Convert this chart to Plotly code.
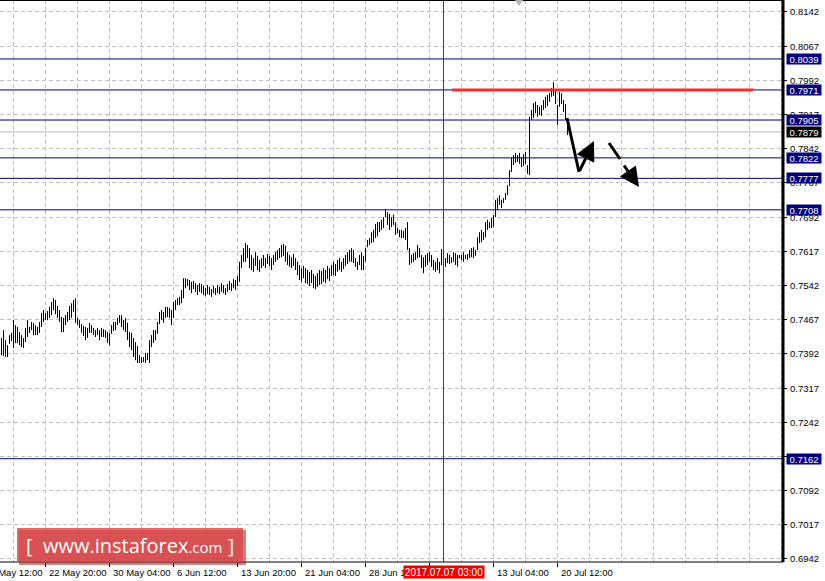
import plotly.graph_objects as go

# ---------------- data (H4 bars) ----------------
highs = [
    0.7427, 0.7444, 0.7422, 0.7411, 0.7433, 0.7438, 0.7466, 0.7455, 0.7451, 0.7440,
    0.7433, 0.7427, 0.7449, 0.7466, 0.7451, 0.7462, 0.7460, 0.7455, 0.7451, 0.7462,
    0.7482, 0.7488, 0.7482, 0.7486, 0.7495, 0.7506, 0.7514, 0.7510, 0.7497, 0.7488,
    0.7473, 0.7471, 0.7477, 0.7484, 0.7497, 0.7503, 0.7510, 0.7514, 0.7471, 0.7466,
    0.7457, 0.7453, 0.7451, 0.7449, 0.7460, 0.7455, 0.7449, 0.7444, 0.7449, 0.7444,
    0.7449, 0.7446, 0.7444, 0.7440, 0.7438, 0.7455, 0.7462, 0.7462, 0.7471, 0.7477,
    0.7477, 0.7466, 0.7471, 0.7460, 0.7440, 0.7438, 0.7427, 0.7418, 0.7409, 0.7389,
    0.7385, 0.7385, 0.7394, 0.7394, 0.7422, 0.7433, 0.7444, 0.7444, 0.7462, 0.7484,
    0.7488, 0.7484, 0.7495, 0.7495, 0.7493, 0.7488, 0.7506, 0.7510, 0.7514, 0.7517,
    0.7532, 0.7558, 0.7558, 0.7556, 0.7554, 0.7550, 0.7552, 0.7547, 0.7543, 0.7547,
    0.7545, 0.7541, 0.7536, 0.7543, 0.7539, 0.7534, 0.7541, 0.7536, 0.7543, 0.7539,
    0.7547, 0.7543, 0.7536, 0.7545, 0.7552, 0.7547, 0.7556, 0.7554, 0.7563, 0.7594,
    0.7609, 0.7624, 0.7635, 0.7631, 0.7624, 0.7609, 0.7602, 0.7615, 0.7607, 0.7598,
    0.7602, 0.7609, 0.7602, 0.7611, 0.7607, 0.7602, 0.7609, 0.7615, 0.7620, 0.7624,
    0.7631, 0.7633, 0.7629, 0.7615, 0.7609, 0.7604, 0.7611, 0.7602, 0.7594, 0.7587,
    0.7580, 0.7585, 0.7580, 0.7576, 0.7572, 0.7576, 0.7567, 0.7563, 0.7569, 0.7576,
    0.7574, 0.7580, 0.7576, 0.7585, 0.7580, 0.7587, 0.7594, 0.7589, 0.7598, 0.7602,
    0.7594, 0.7602, 0.7609, 0.7615, 0.7620, 0.7624, 0.7620, 0.7602, 0.7594, 0.7609,
    0.7615, 0.7607, 0.7624, 0.7642, 0.7646, 0.7659, 0.7664, 0.7677, 0.7681, 0.7681,
    0.7686, 0.7692, 0.7710, 0.7703, 0.7699, 0.7692, 0.7697, 0.7681, 0.7668, 0.7664,
    0.7664, 0.7662, 0.7668, 0.7681, 0.7624, 0.7609, 0.7613, 0.7615, 0.7631, 0.7624,
    0.7609, 0.7604, 0.7609, 0.7613, 0.7615, 0.7609, 0.7598, 0.7594, 0.7602, 0.7594,
    0.7622, 0.7594, 0.7602, 0.7613, 0.7609, 0.7604, 0.7615, 0.7613, 0.7609, 0.7609,
    0.7609, 0.7615, 0.7609, 0.7611, 0.7620, 0.7624, 0.7626, 0.7620, 0.7648, 0.7659,
    0.7664, 0.7659, 0.7681, 0.7686, 0.7681, 0.7690, 0.7697, 0.7730, 0.7734, 0.7740,
    0.7730, 0.7734, 0.7745, 0.7762, 0.7795, 0.7822, 0.7828, 0.7833, 0.7828, 0.7833,
    0.7824, 0.7830, 0.7835, 0.7806, 0.7912, 0.7927, 0.7942, 0.7945, 0.7938, 0.7934,
    0.7938, 0.7949, 0.7956, 0.7960, 0.7964, 0.7975, 0.7988, 0.7971, 0.7938, 0.7967,
    0.7964, 0.7949, 0.7940, 0.7909,
]
lows = [
    0.7389, 0.7387, 0.7385, 0.7385, 0.7414, 0.7420, 0.7405, 0.7416, 0.7416, 0.7411,
    0.7407, 0.7405, 0.7418, 0.7429, 0.7438, 0.7444, 0.7433, 0.7433, 0.7433, 0.7438,
    0.7451, 0.7462, 0.7466, 0.7466, 0.7471, 0.7477, 0.7488, 0.7479, 0.7471, 0.7462,
    0.7440, 0.7440, 0.7455, 0.7462, 0.7466, 0.7471, 0.7484, 0.7460, 0.7455, 0.7449,
    0.7438, 0.7431, 0.7422, 0.7427, 0.7438, 0.7438, 0.7433, 0.7429, 0.7433, 0.7422,
    0.7429, 0.7429, 0.7427, 0.7416, 0.7411, 0.7436, 0.7442, 0.7444, 0.7455, 0.7460,
    0.7451, 0.7444, 0.7440, 0.7422, 0.7407, 0.7400, 0.7385, 0.7378, 0.7372, 0.7372,
    0.7372, 0.7374, 0.7372, 0.7378, 0.7372, 0.7407, 0.7416, 0.7422, 0.7436, 0.7457,
    0.7466, 0.7460, 0.7471, 0.7473, 0.7471, 0.7455, 0.7471, 0.7488, 0.7499, 0.7499,
    0.7503, 0.7514, 0.7536, 0.7541, 0.7532, 0.7525, 0.7534, 0.7528, 0.7521, 0.7528,
    0.7525, 0.7521, 0.7519, 0.7523, 0.7521, 0.7517, 0.7525, 0.7521, 0.7525, 0.7523,
    0.7528, 0.7525, 0.7521, 0.7528, 0.7532, 0.7530, 0.7536, 0.7532, 0.7541, 0.7550,
    0.7580, 0.7594, 0.7594, 0.7602, 0.7580, 0.7576, 0.7572, 0.7585, 0.7576, 0.7572,
    0.7580, 0.7585, 0.7580, 0.7589, 0.7585, 0.7576, 0.7587, 0.7594, 0.7598, 0.7602,
    0.7604, 0.7607, 0.7594, 0.7587, 0.7583, 0.7580, 0.7585, 0.7576, 0.7565, 0.7554,
    0.7550, 0.7558, 0.7547, 0.7545, 0.7541, 0.7547, 0.7536, 0.7534, 0.7539, 0.7543,
    0.7545, 0.7550, 0.7547, 0.7556, 0.7552, 0.7563, 0.7565, 0.7563, 0.7572, 0.7576,
    0.7572, 0.7578, 0.7585, 0.7589, 0.7594, 0.7594, 0.7591, 0.7583, 0.7576, 0.7587,
    0.7576, 0.7576, 0.7594, 0.7626, 0.7631, 0.7635, 0.7637, 0.7646, 0.7650, 0.7659,
    0.7664, 0.7668, 0.7692, 0.7675, 0.7664, 0.7670, 0.7675, 0.7653, 0.7657, 0.7648,
    0.7646, 0.7646, 0.7642, 0.7620, 0.7587, 0.7591, 0.7594, 0.7598, 0.7602, 0.7604,
    0.7580, 0.7569, 0.7583, 0.7587, 0.7594, 0.7583, 0.7576, 0.7572, 0.7576, 0.7569,
    0.7587, 0.7569, 0.7583, 0.7591, 0.7589, 0.7591, 0.7594, 0.7587, 0.7583, 0.7602,
    0.7598, 0.7594, 0.7600, 0.7598, 0.7602, 0.7604, 0.7602, 0.7607, 0.7620, 0.7635,
    0.7637, 0.7642, 0.7648, 0.7664, 0.7668, 0.7668, 0.7670, 0.7692, 0.7708, 0.7719,
    0.7712, 0.7723, 0.7730, 0.7740, 0.7760, 0.7791, 0.7806, 0.7811, 0.7813, 0.7809,
    0.7802, 0.7804, 0.7809, 0.7787, 0.7784, 0.7905, 0.7909, 0.7920, 0.7912, 0.7916,
    0.7914, 0.7927, 0.7931, 0.7936, 0.7945, 0.7956, 0.7958, 0.7940, 0.7894, 0.7934,
    0.7940, 0.7923, 0.7905, 0.7872,
]

grid_prices = [0.6942, 0.7017, 0.7092, 0.7167, 0.7242, 0.7317, 0.7392, 0.7467, 0.7542,
               0.7617, 0.7692, 0.7767, 0.7842, 0.7917, 0.7992, 0.8067, 0.8142]
grid_labels = ["0.6942", "0.7017", "0.7092", "0.7167", "0.7242", "0.7317", "0.7392", "0.7467", "0.7542",
               "0.7617", "0.7692", "0.7767", "0.7842", "0.7917", "0.7992", "0.8067", "0.8142"]

level_prices = [0.8039, 0.7971, 0.7905, 0.7822, 0.7777, 0.7708, 0.7162]
level_labels = ["0.8039", "0.7971", "0.7905", "0.7822", "0.7777", "0.7708", "0.7162"]
current_price = 0.7879
current_label = "0.7879"

time_tick_idx = [-10, 22, 54, 86, 118, 150, 182, 214, 246, 278]
time_labels = ["15 May 12:00", "22 May 20:00", "30 May 04:00", "6 Jun 12:00", "13 Jun 20:00",
               "21 Jun 04:00", "28 Jun 12:00", "", "13 Jul 04:00", "20 Jul 12:00"]
cursor_idx = 221
cursor_label = "2017.07.07 03:00"

resistance_price = 0.7971
resistance_span = [225.25, 375.75]

# analyst arrows (bar index, price)
arrow1_path = [(282.75, 0.79094), (288.75, 0.77909), (296.25, 0.78590)]
arrow2_dash = [(303.75, 0.78546), (309.25, 0.78195)]
arrow2_head = [(310.75, 0.78085), (318.75, 0.77580)]

# ---------------- figure ----------------
XR = [-0.75, 390.75]
YR = [0.69354, 0.81683]
BLACK = "#000000"
NAVY = "#000080"
GRID = "#c0c0c0"
FONT = "Liberation Sans"


def x_paper(ix):
    return (ix - XR[0]) / (XR[1] - XR[0])


xs, ys = [], []
for i, (h, l) in enumerate(zip(highs, lows)):
    xs += [i, i, None]
    ys += [l, h, None]

fig = go.Figure()
fig.add_trace(go.Scatter(x=xs, y=ys, mode="lines", line=dict(color=BLACK, width=1),
                         hoverinfo="skip", showlegend=False))

shapes = []
shapes.append(dict(type="line", xref="paper", x0=0, x1=1, yref="y", y0=current_price, y1=current_price,
                   line=dict(color="#b8b8b8", width=1), layer="below"))
for p in level_prices:
    shapes.append(dict(type="line", xref="paper", x0=0, x1=1, yref="y", y0=p, y1=p,
                       line=dict(color=NAVY, width=1)))
shapes.append(dict(type="line", xref="x", x0=cursor_idx, x1=cursor_idx, yref="paper", y0=0, y1=1,
                   line=dict(color="#e00000", width=1)))
shapes.append(dict(type="line", xref="x", x0=resistance_span[0], x1=resistance_span[1], yref="y",
                   y0=resistance_price, y1=resistance_price, line=dict(color="#f03030", width=3)))
shapes.append(dict(type="line", xref="x", yref="y", x0=arrow1_path[0][0], y0=arrow1_path[0][1],
                   x1=arrow1_path[1][0], y1=arrow1_path[1][1], line=dict(color=BLACK, width=3)))
shapes.append(dict(type="line", xref="x", yref="y", x0=arrow2_dash[0][0], y0=arrow2_dash[0][1],
                   x1=arrow2_dash[1][0], y1=arrow2_dash[1][1], line=dict(color=BLACK, width=3)))
shapes.append(dict(type="line", xref="paper", yref="paper", x0=1, x1=1, y0=0, y1=1,
                   line=dict(color=BLACK, width=3)))
shapes.append(dict(type="line", xref="paper", yref="paper", x0=0, x1=1, y0=1, y1=1,
                   line=dict(color=BLACK, width=2)))
shapes.append(dict(type="line", xref="paper", yref="paper", x0=0, x1=1, y0=0, y1=0,
                   line=dict(color=BLACK, width=1)))
tx0, tx1, tm, ty = 515 / 783, 523 / 783, 519 / 783, 1 - 6 / 562
shapes.append(dict(type="path", xref="paper", yref="paper",
                   path=f"M {tx0},1 L {tx1},1 L {tm},{ty} Z",
                   fillcolor="#b4b4b4", line=dict(width=0)))
shapes.append(dict(type="rect", xref="paper", yref="paper",
                   x0=19 / 783, x1=246 / 783, y0=1 - 565 / 562, y1=1 - 530 / 562,
                   fillcolor="rgba(150,30,30,0.55)", line=dict(width=0)))
shapes.append(dict(type="rect", xref="paper", yref="paper",
                   x0=17 / 783, x1=243 / 783, y0=1 - 562 / 562, y1=1 - 528 / 562,
                   fillcolor="rgba(222,70,72,0.82)", line=dict(width=0)))

annotations = []
for p, t in zip(grid_prices, grid_labels):
    annotations.append(dict(xref="paper", x=1, xshift=5, xanchor="left", yref="y", y=p,
                            yanchor="middle", text=t, showarrow=False,
                            font=dict(family=FONT, size=9.5, color=BLACK)))
for p, t in zip(level_prices, level_labels):
    annotations.append(dict(xref="paper", x=1, xshift=3, xanchor="left", yref="y", y=p,
                            yanchor="middle", text=t, showarrow=False, bgcolor=NAVY,
                            width=34, height=10, borderpad=0,
                            font=dict(family=FONT, size=9.5, color="white")))
annotations.append(dict(xref="paper", x=1, xshift=3, xanchor="left", yref="y", y=current_price,
                        yanchor="middle", text=current_label, showarrow=False, bgcolor=BLACK,
                        width=34, height=10, borderpad=0,
                        font=dict(family=FONT, size=9.5, color="white")))
for ix, t in zip(time_tick_idx, time_labels):
    if t:
        annotations.append(dict(xref="paper", x=x_paper(ix), xshift=1, xanchor="left",
                                yref="paper", y=0, yshift=-3, yanchor="top", text=t,
                                showarrow=False, font=dict(family=FONT, size=9.5, color=BLACK)))
annotations.append(dict(xref="x", x=cursor_idx, xanchor="center", yref="paper", y=0, yshift=-3,
                        yanchor="top", text=cursor_label, showarrow=False, bgcolor="#f00000",
                        width=80, height=12, borderpad=0,
                        font=dict(family=FONT, size=10, color="white")))
annotations.append(dict(xref="x", yref="y", x=arrow1_path[2][0], y=arrow1_path[2][1],
                        axref="x", ayref="y", ax=arrow1_path[1][0], ay=arrow1_path[1][1],
                        text="", showarrow=True, arrowhead=2, arrowsize=1.3, arrowwidth=3,
                        arrowcolor=BLACK, standoff=0))
annotations.append(dict(xref="x", yref="y", x=arrow2_head[1][0], y=arrow2_head[1][1],
                        axref="x", ayref="y", ax=arrow2_head[0][0], ay=arrow2_head[0][1],
                        text="", showarrow=True, arrowhead=2, arrowsize=1.3, arrowwidth=3,
                        arrowcolor=BLACK, standoff=0))
annotations.append(dict(xref="paper", yref="paper", x=130 / 783, y=1 - 545 / 562,
                        xanchor="center", yanchor="middle", showarrow=False,
                        text="[&nbsp;&nbsp;www.instaforex<span style='font-size:15px'>.com</span>&nbsp;]",
                        font=dict(family="Open Sans", size=20, color="white")))

fig.update_layout(
    width=825, height=581,
    margin=dict(l=0, r=42, t=0, b=19),
    paper_bgcolor="white", plot_bgcolor="white",
    showlegend=False,
    xaxis=dict(range=XR, tickmode="array", tickvals=time_tick_idx, ticks="outside", ticklen=4,
               tickcolor=BLACK, showticklabels=False, showgrid=True, gridcolor=GRID,
               griddash="4px,3px", gridwidth=1, zeroline=False, showline=False,
               minor=dict(tick0=6, dtick=16, showgrid=True, gridcolor=GRID, griddash="4px,3px",
                          ticks="")),
    yaxis=dict(range=YR, side="right", tickmode="array", tickvals=grid_prices, ticks="outside",
               ticklen=3, tickcolor=BLACK, showticklabels=False, showgrid=True, gridcolor=GRID,
               griddash="4px,3px", zeroline=False, showline=False),
    shapes=shapes,
    annotations=annotations,
)

fig.write_html("out.html", config={"displayModeBar": False, "staticPlot": True},
               post_script="document.body.style.margin='0';document.body.style.padding='0';"
                           "document.body.style.overflow='hidden';")
